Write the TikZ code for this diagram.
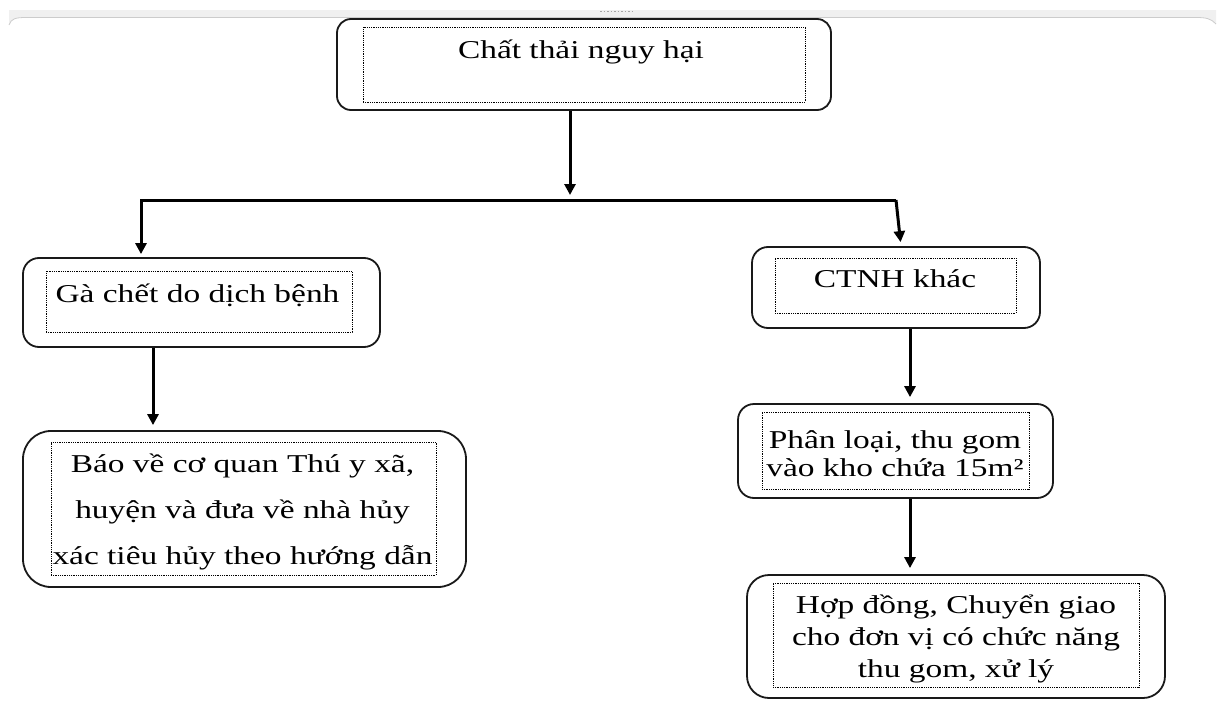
\documentclass[tikz,border=0pt]{standalone}
\usepackage{fontspec}
\setmainfont[FakeStretch=1.3]{Liberation Serif}
\usetikzlibrary{arrows.meta}
\begin{document}
\begin{tikzpicture}[x=1pt,y=-1pt,
  frame/.style={draw=black!90, line width=1.8pt, inner sep=0pt},
  dotbox/.style={draw=black, line width=0.9pt, dash pattern=on 0.9pt off 0.9pt, inner sep=0pt},
  txt/.style={inner sep=0pt, anchor=base, font=\fontsize{25.7pt}{30pt}\selectfont},
  link/.style={line width=3pt, -{Triangle[length=11pt,width=11pt]}},
]
\useasboundingbox (0,0) rectangle (1219,704);

% window strip along the top edge
\fill[black!6] (9,10) -- (1216,10) -- (1216,24) .. controls (1211,18.5) and (1206,17.5) .. (1196,17.5)
  -- (26,17.5) .. controls (16,17.5) and (11,18.5) .. (9,25) -- cycle;
\draw[black!20, line width=0.8pt] (9,25) .. controls (11,18.5) and (16,17.5) .. (26,17.5)
  -- (1196,17.5) .. controls (1206,17.5) and (1211,18.5) .. (1216,24);
\draw[black!35, line width=1.2pt, dash pattern=on 1.5pt off 2pt] (600,11.5) -- (632,11.5);

% top box
\node[frame, rounded corners=14pt, minimum width=494pt, minimum height=91pt] (top) at (584,64.5) {};
\node[dotbox, minimum width=442pt, minimum height=75pt] (topin) at (584,64.5) {};
\node[txt] (toptxt) at (581,58) {Chất thải nguy hại};

% left branch
\node[frame, rounded corners=16pt, minimum width=357pt, minimum height=89pt] (ga) at (201.5,302.5) {};
\node[dotbox, minimum width=306pt, minimum height=61pt] (gain) at (199,301.5) {};
\node[txt] (gatxt) at (197.5,302) {Gà chết do dịch bệnh};

\node[frame, rounded corners=28pt, minimum width=443pt, minimum height=156pt] (bao) at (244.5,509) {};
\node[dotbox, minimum width=385pt, minimum height=133pt] (baoin) at (243.5,508.5) {};
\node[txt] (baoa) at (242.5,472) {Báo về cơ quan Thú y xã,};
\node[txt] (baob) at (242.5,518) {huyện và đưa về nhà hủy};
\node[txt] (baoc) at (242.5,564) {xác tiêu hủy theo hướng dẫn};

% right branch
\node[frame, rounded corners=16pt, minimum width=288pt, minimum height=81pt] (ctnh) at (896,287.5) {};
\node[dotbox, minimum width=241pt, minimum height=55pt] (ctnhin) at (895.5,285.5) {};
\node[txt] (ctnhtxt) at (895,287) {CTNH khác};

\node[frame, rounded corners=16pt, minimum width=315pt, minimum height=94pt] (pl) at (895.5,451) {};
\node[dotbox, minimum width=267pt, minimum height=77pt] (plin) at (895.5,450.5) {};
\node[txt] (pla) at (895,448) {Phân loại, thu gom};
\node[txt] (plb) at (895,476) {vào kho chứa 15m²};

\node[frame, rounded corners=22pt, minimum width=418pt, minimum height=123pt] (hd) at (956,636.5) {};
\node[dotbox, minimum width=366pt, minimum height=104pt] (hdin) at (956,635) {};
\node[txt] (hda) at (956,613) {Hợp đồng, Chuyển giao};
\node[txt] (hdb) at (956,645) {cho đơn vị có chức năng};
\node[txt] (hdc) at (956,677) {thu gom, xử lý};

% connectors
\coordinate (jL) at (141,200);
\coordinate (jR) at (896,200);
\coordinate (jM) at (570,195);
\coordinate (xL) at (153,0);
\coordinate (xR) at (910,0);
\draw[link] (top.south -| jM) -- (jM);
\draw[link, shorten >=3pt] (jR) -- (jL) -- (jL |- ga.north);
\draw[link, shorten >=4pt] (jR) -- ([xshift=5pt]ctnh.north);
\draw[link, shorten >=5pt] (ga.south -| xL) -- (bao.north -| xL);
\draw[link, shorten >=6pt] (ctnh.south -| xR) -- (pl.north -| xR);
\draw[link, shorten >=6pt] (pl.south -| xR) -- (hd.north -| xR);
\end{tikzpicture}
\end{document}
